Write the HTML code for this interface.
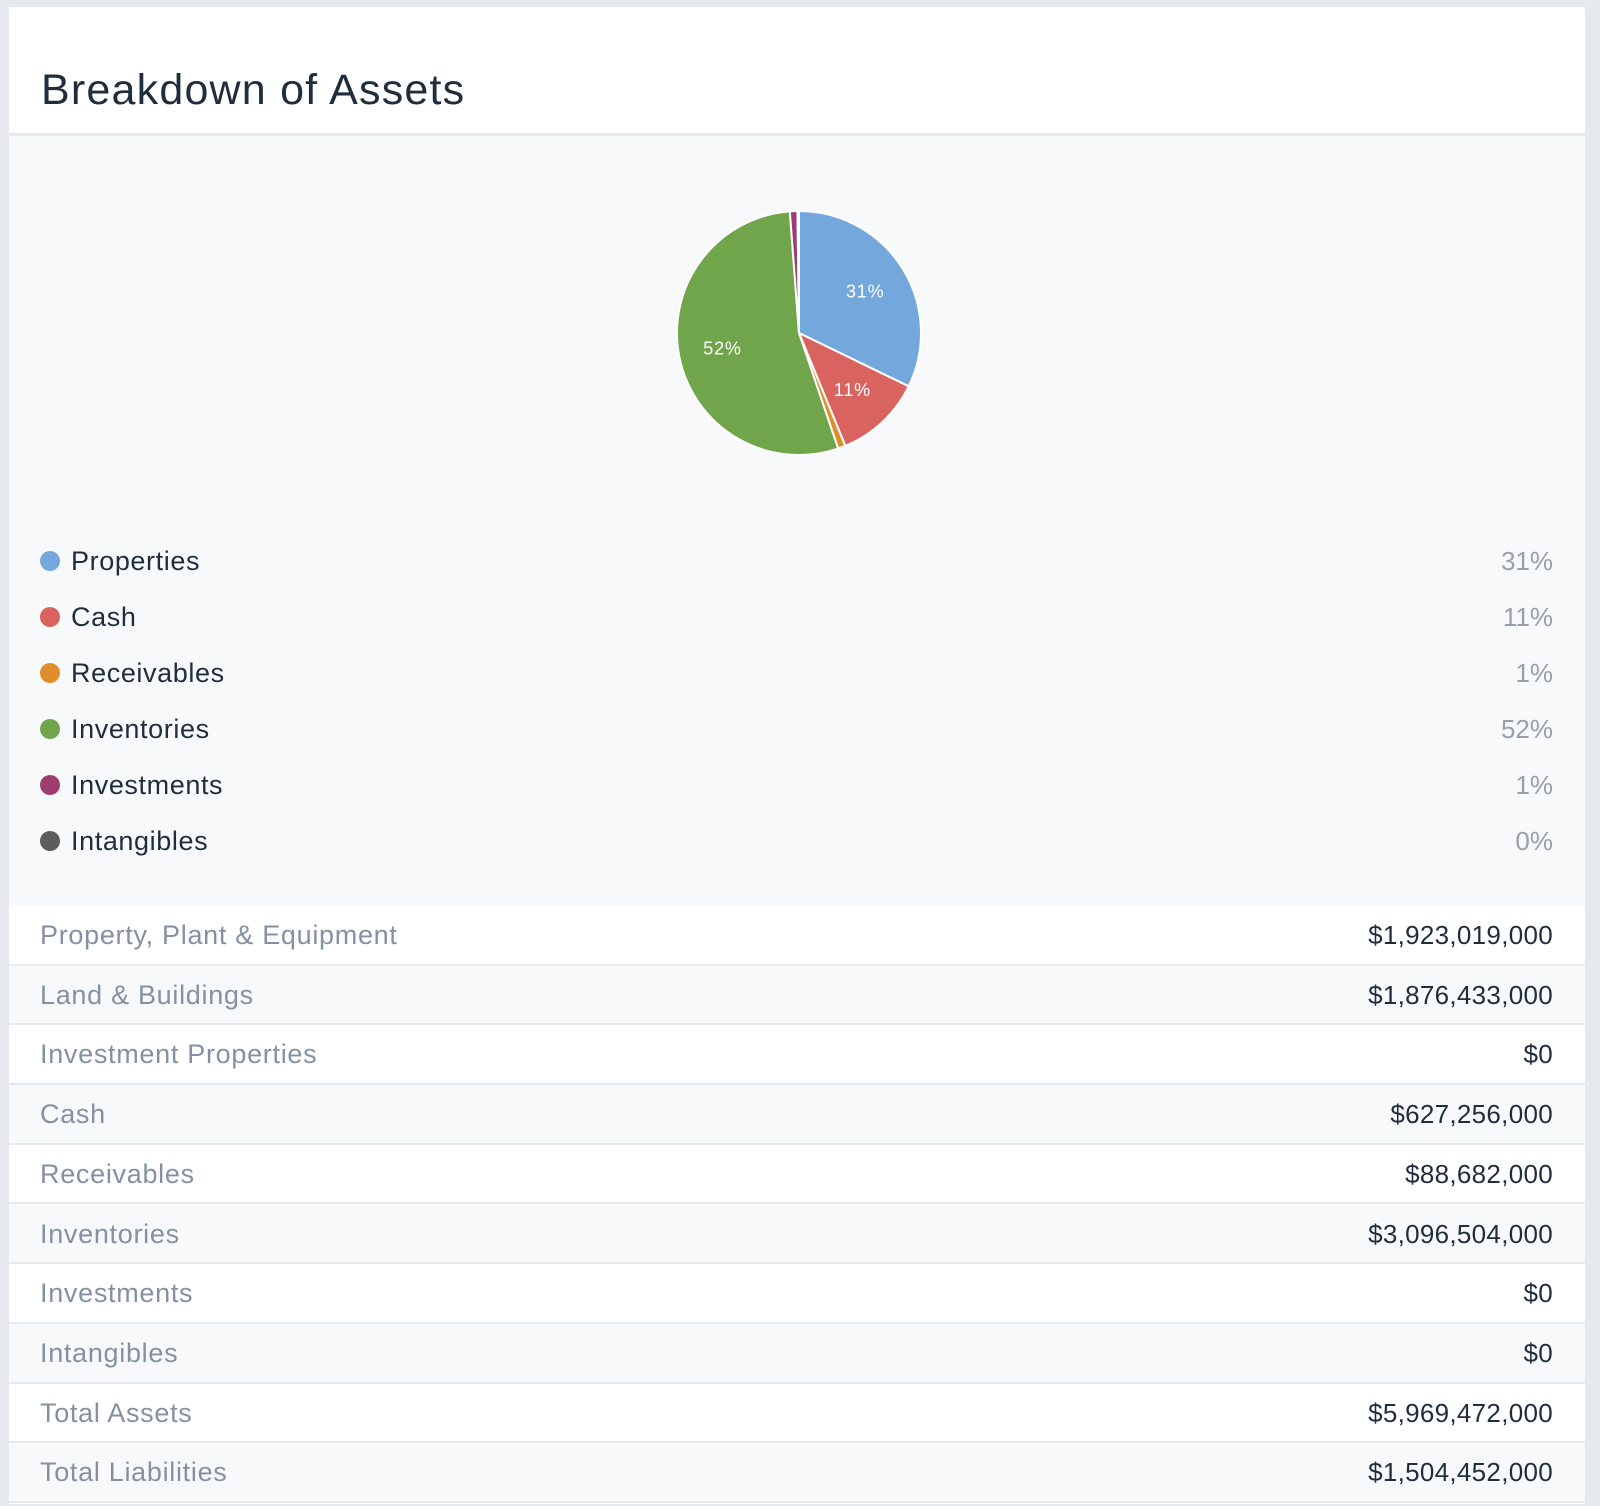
<!DOCTYPE html>
<html><head><meta charset="utf-8"><style>
html,body{margin:0;padding:0;width:1600px;height:1506px;background:#e6e9ee;overflow:hidden;font-family:"Liberation Sans",sans-serif}
#card{position:absolute;left:9px;top:7px;width:1576px;height:1497px;background:#fff}
#title{position:absolute;left:32px;top:62px;font-size:43px;letter-spacing:1.2px;color:#1f2d3d;line-height:1}
#chart-area{position:absolute;left:0;top:126px;width:1576px;height:773px;background:#f8f9fb;border-top:3px solid #e6e9ee}
.leg{position:absolute;left:0;width:1576px;height:30px}
.leg .dot{position:absolute;left:31px;top:5px;width:20px;height:20px;border-radius:50%}
.leg .lab{position:absolute;left:62px;top:0;font-size:27px;letter-spacing:0.6px;color:#1f2d3d;line-height:30px}
.leg .pct{position:absolute;right:32px;top:0;font-size:26px;color:#9aa0aa;line-height:30px}
.row{position:absolute;left:0;width:1576px;height:57.7px;border-bottom:2px solid #e6e9ee}
.row .k{position:absolute;left:31px;top:0;line-height:58px;font-size:27px;letter-spacing:0.7px;color:#8590a2}
.row .v{position:absolute;right:32px;top:0;line-height:58px;font-size:26px;letter-spacing:0.3px;color:#1f2d3d}
</style></head><body>
<div id="card">
<div id="title">Breakdown of Assets</div>
<div id="chart-area">
<svg id="pie" width="1576" height="380" style="position:absolute;left:0;top:0"></svg>
<div id="legend"></div>
</div>
<div id="table"></div>
</div>
<script>
const categories=["Properties","Cash","Receivables","Inventories","Investments","Intangibles"];
const shares=[32.2,11.6,1.0,54.0,1.0,0.2];
const pctLabels=["31%","11%","1%","52%","1%","0%"];
const colors=["#74a8dc","#d9635f","#e08e2b","#70a54c","#9e3c6e","#5d5d5d"];
const rowLabels=["Property, Plant & Equipment","Land & Buildings","Investment Properties","Cash","Receivables","Inventories","Investments","Intangibles","Total Assets","Total Liabilities"];
const rowValues=["$1,923,019,000","$1,876,433,000","$0","$627,256,000","$88,682,000","$3,096,504,000","$0","$0","$5,969,472,000","$1,504,452,000"];

const NS="http://www.w3.org/2000/svg";
const svg=document.getElementById('pie');
const cx=790,cy=197,R=122;
const total=shares.reduce((a,b)=>a+b,0);
function pt(a,r){return [cx+r*Math.sin(a),cy-r*Math.cos(a)];}
let start=0;
shares.forEach((s,i)=>{
  const ang=s/total*2*Math.PI, end=start+ang;
  const p0=pt(start,R),p1=pt(end,R);
  const path=document.createElementNS(NS,'path');
  path.setAttribute('d',`M${cx},${cy}L${p0[0]},${p0[1]}A${R},${R} 0 ${ang>Math.PI?1:0} 1 ${p1[0]},${p1[1]}Z`);
  path.setAttribute('fill',colors[i]);path.setAttribute('stroke','#fff');path.setAttribute('stroke-width','2');
  
  
  svg.appendChild(path);
  if(s/total>0.05){
    const m=pt((start+end)/2,R*0.64);
    const t=document.createElementNS(NS,'text');
    t.setAttribute('x',m[0]);t.setAttribute('y',m[1]+6);t.setAttribute('text-anchor','middle');
    t.setAttribute('fill','#fff');t.setAttribute('font-size','18');t.setAttribute('letter-spacing','0.8');t.setAttribute('font-family','Liberation Sans, sans-serif');
    t.textContent=pctLabels[i];
    
    
    svg.appendChild(t);
  }
  start=end;
});
const leg=document.getElementById('legend');
categories.forEach((c,i)=>{
  const d=document.createElement('div');d.className='leg';d.style.top=(410+i*56)+'px';
  
  
  d.innerHTML=`<span class="dot" style="background:${colors[i]}"></span><span class="lab">${c}</span><span class="pct">${pctLabels[i]}</span>`;
  leg.appendChild(d);
});
const tb=document.getElementById('table');
rowLabels.forEach((l,i)=>{
  const d=document.createElement('div');d.className='row';d.style.top=(899+i*59.7)+'px';
  d.style.background=i%2?'#f8f9fb':'#fff';
  
  
  d.innerHTML=`<span class="k">${l.replace('&','&amp;')}</span><span class="v">${rowValues[i]}</span>`;
  tb.appendChild(d);
});
</script>
</body></html>
